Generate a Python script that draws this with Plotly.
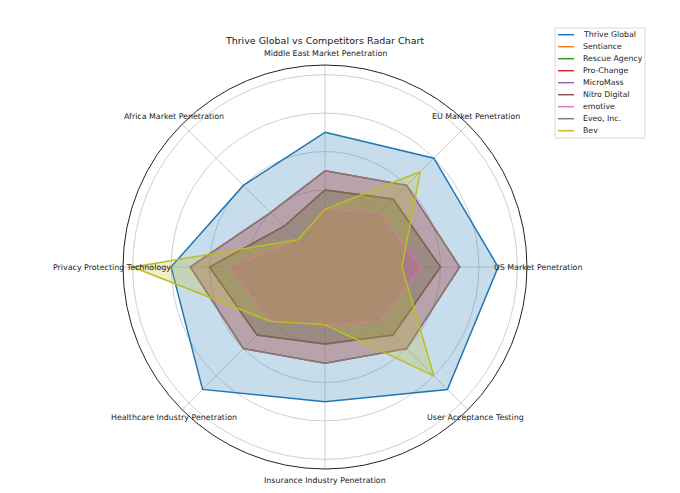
import math
import plotly.graph_objects as go

# radar axes, clockwise from the top
categories = ['Middle East Market Penetration', 'EU Market Penetration', 'US Market Penetration',
              'User Acceptance Testing', 'Insurance Industry Penetration', 'Healthcare Industry Penetration',
              'Privacy Protecting Technology', 'Africa Market Penetration']

companies = ['Thrive Global', 'Sentiance', 'Rescue Agency', 'Pro-Change', 'MicroMass',
             'Nitro Digital', 'emotive', 'Eveo, Inc.', 'Bev']

thrive_global = [70, 80, 90, 90, 70, 90, 80, 60]
sentiance = [30, 40, 50, 40, 30, 40, 50, 20]
rescue_agency = [40, 50, 60, 50, 40, 50, 60, 30]
pro_change = [50, 60, 70, 60, 50, 60, 70, 40]
micromass = [30, 40, 50, 40, 30, 40, 50, 20]
nitro_digital = [40, 50, 60, 50, 40, 50, 60, 30]
emotive = [30, 40, 50, 40, 30, 40, 50, 20]
eveo = [50, 60, 70, 60, 50, 60, 70, 40]
bev = [30, 70, 40, 80, 30, 40, 100, 20]

series = [thrive_global, sentiance, rescue_agency, pro_change, micromass,
          nitro_digital, emotive, eveo, bev]

colors = ['#1f77b4', '#ff7f0e', '#2ca02c', '#d62728', '#9467bd',
          '#8c564b', '#e377c2', '#7f7f7f', '#bcbd22']

W, H = 680, 493
CX, CY, RAD = 317, 259, 202   # polar centre / radius in page pixels


def rgba(hex_color, alpha):
    h = hex_color.lstrip('#')
    return 'rgba(%d,%d,%d,%g)' % (int(h[0:2], 16), int(h[2:4], 16), int(h[4:6], 16), alpha)


fig = go.Figure()

for name, vals, col in zip(companies, series, colors):
    fig.add_trace(go.Scatterpolar(
        r=vals + vals[:1], theta=categories + categories[:1], name=name,
        mode='lines', fill='toself', fillcolor=rgba(col, 0.25),
        line=dict(color=col, width=1.5), showlegend=False))

# category labels centred just outside the ring (matplotlib style)
for i, cat in enumerate(categories):
    ang = math.radians(90 - 360 / len(categories) * i)
    fig.add_annotation(xref='paper', yref='paper',
                       x=(CX + 213 * math.cos(ang)) / W, y=1 - (CY - 213 * math.sin(ang)) / H,
                       text=cat, showarrow=False, xanchor='center', yanchor='middle',
                       font=dict(size=7.9, color='#1a1a1a'))

fig.update_layout(
    width=W, height=H,
    margin=dict(l=0, r=0, t=0, b=0),
    paper_bgcolor='white',
    font=dict(family='DejaVu Sans', color='#1a1a1a'),
    title=dict(text='Thrive Global vs Competitors Radar Chart', x=CX / W, xanchor='center',
               y=1 - 33 / H, yanchor='middle', font=dict(size=9.5)),
    polar=dict(
        domain=dict(x=[(CX - RAD) / W, (CX + RAD) / W], y=[1 - (CY + RAD) / H, 1 - (CY - RAD) / H]),
        bgcolor='white',
        radialaxis=dict(range=[0, 105], tickvals=[20, 40, 60, 80, 100], showticklabels=False,
                        ticks='', showline=False, gridcolor='#d0d0d0', gridwidth=0.8),
        angularaxis=dict(rotation=90, direction='clockwise', showticklabels=False, ticks='',
                         showline=True, linecolor='#222222', linewidth=1,
                         gridcolor='#d0d0d0', gridwidth=0.8),
    ),
)

# compact legend box drawn by hand (plotly's own rows are too tall here)
fig.add_shape(type='rect', xref='paper', yref='paper',
              x0=547 / W, x1=637 / W, y0=1 - 130 / H, y1=1 - 20 / H,
              line=dict(color='#d9d9d9', width=1), fillcolor='rgba(255,255,255,0.8)')
for i, (name, col) in enumerate(zip(companies, colors)):
    yy = 1 - (26.7 + 12 * i) / H
    fig.add_shape(type='line', xref='paper', yref='paper',
                  x0=550 / W, x1=566 / W, y0=yy, y1=yy, line=dict(color=col, width=1.5))
    fig.add_annotation(xref='paper', yref='paper', x=573 / W, y=yy, text=name,
                       showarrow=False, xanchor='left', yanchor='middle',
                       font=dict(size=7.8, color='#1a1a1a'))

fig.write_html("out.html")
